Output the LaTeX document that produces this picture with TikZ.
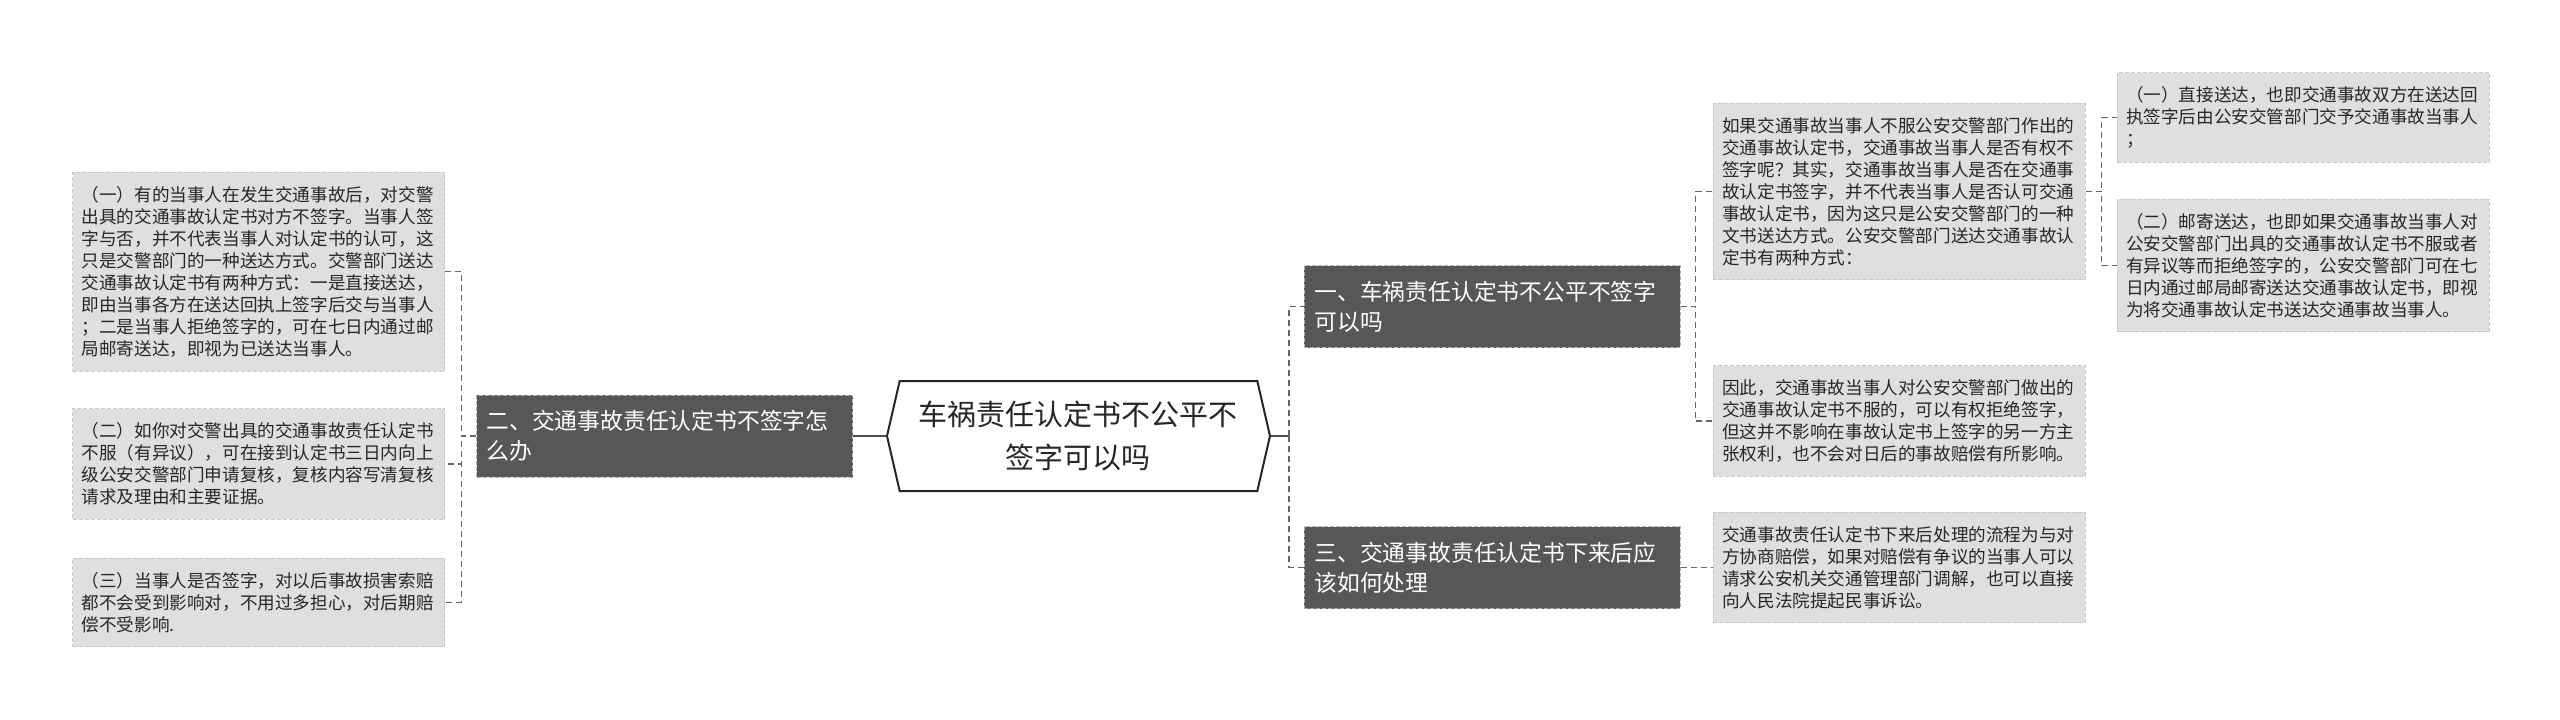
\documentclass[tikz,border=0pt]{standalone}
\usepackage{fontspec}
\setmainfont{Noto Sans CJK SC}
\usepackage{tikz}
\usetikzlibrary{positioning,shapes.symbols}
\definecolor{leafgray}{HTML}{DFDFDF}
\definecolor{brgray}{HTML}{575757}

\begin{document}
\begin{tikzpicture}[
  node distance=16pt,
  root/.style={draw=black!85, line width=1pt, signal, signal to=west and east, signal pointer angle=154, minimum width=191.5pt, minimum height=55pt, align=center, text=black!85, fill=white, font=\fontsize{14.5}{21.5}\selectfont},
  br/.style={draw=black!30, dash pattern=on 2pt off 1pt, fill=brgray, text=white, align=left, text width=178pt, inner xsep=5pt, minimum height=41pt, font=\fontsize{11.4}{15}\selectfont},
  lf/.style={draw=black!22, dash pattern=on 2pt off 1pt, fill=leafgray, text=black!85, align=left, text width=177pt, inner xsep=4.5pt, inner ysep=7pt, font=\fontsize{8.8}{11}\selectfont},
  link/.style={draw=black!60, dash pattern=on 3pt off 2pt, line width=0.6pt},
  stem/.style={draw=black!70, line width=0.8pt}
]
\useasboundingbox (-539.25pt,-141.5pt) rectangle (740.75pt,218pt);

\node[root] (root) at (0,0) {车祸责任认定书不公平不\\签字可以吗};

% branches
\node[br, left=16.5pt of root] (b2) {二、交通事故责任认定书不签字怎\\么办};
\node[br, right=16.5pt of root, yshift=64.75pt] (b1) {一、车祸责任认定书不公平不签字\\可以吗};
\node[br, right=16.5pt of root, yshift=-65.75pt] (b3) {三、交通事故责任认定书下来后应\\该如何处理};

% left leaves
\node[lf, left=15.5pt of b2, yshift=-14pt] (l2) {（二）如你对交警出具的交通事故责任认定书\\不服（有异议），可在接到认定书三日内向上\\级公安交警部门申请复核，复核内容写清复核\\请求及理由和主要证据。};
\node[lf, above=18.5pt of l2] (l1) {（一）有的当事人在发生交通事故后，对交警\\出具的交通事故认定书对方不签字。当事人签\\字与否，并不代表当事人对认定书的认可，这\\只是交警部门的一种送达方式。交警部门送达\\交通事故认定书有两种方式：一是直接送达，\\即由当事各方在送达回执上签字后交与当事人\\；二是当事人拒绝签字的，可在七日内通过邮\\局邮寄送达，即视为已送达当事人。};
\node[lf, below=19pt of l2] (l3) {（三）当事人是否签字，对以后事故损害索赔\\都不会受到影响对，不用过多担心，对后期赔\\偿不受影响.};

% right leaves
\node[lf, right=16pt of b1, yshift=57.5pt] (la) {如果交通事故当事人不服公安交警部门作出的\\交通事故认定书，交通事故当事人是否有权不\\签字呢？其实，交通事故当事人是否在交通事\\故认定书签字，并不代表当事人是否认可交通\\事故认定书，因为这只是公安交警部门的一种\\文书送达方式。公安交警部门送达交通事故认\\定书有两种方式：};
\node[lf, below=42.5pt of la] (lb) {因此，交通事故当事人对公安交警部门做出的\\交通事故认定书不服的，可以有权拒绝签字，\\但这并不影响在事故认定书上签字的另一方主\\张权利，也不会对日后的事故赔偿有所影响。};
\node[lf, right=16pt of b3] (le) {交通事故责任认定书下来后处理的流程为与对\\方协商赔偿，如果对赔偿有争议的当事人可以\\请求公安机关交通管理部门调解，也可以直接\\向人民法院提起民事诉讼。};
\node[lf, right=15.5pt of la, yshift=37pt] (lc) {（一）直接送达，也即交通事故双方在送达回\\执签字后由公安交管部门交予交通事故当事人\\；};
\node[lf, below=18pt of lc] (ld) {（二）邮寄送达，也即如果交通事故当事人对\\公安交警部门出具的交通事故认定书不服或者\\有异议等而拒绝签字的，公安交警部门可在七\\日内通过邮局邮寄送达交通事故认定书，即视\\为将交通事故认定书送达交通事故当事人。};

% connectors
\draw[stem] (root.west) -- (b2.east);
\draw[stem] (root.east) -- ++(9pt,0) coordinate (rj);
\draw[link] (rj) |- (b1.west);
\draw[link] (rj) |- (b3.west);
\foreach \n in {l1,l2,l3}
  \draw[link] (b2.west) -- ++(-7.5pt,0) |- (\n.east);
\foreach \n in {la,lb}
  \draw[link] (b1.east) -- ++(7.5pt,0) |- (\n.west);
\draw[link] (b3.east) -- (le.west);
\foreach \n in {lc,ld}
  \draw[link] (la.east) -- ++(8pt,0) |- (\n.west);
\end{tikzpicture}
\end{document}
